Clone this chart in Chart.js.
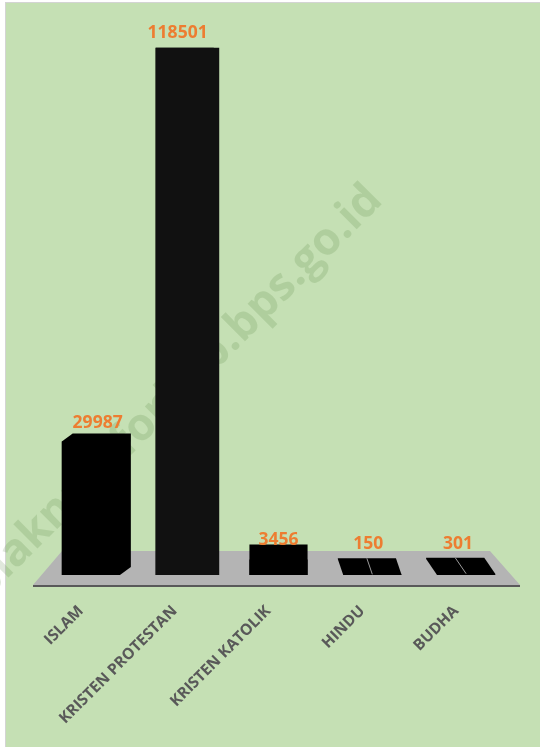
<!DOCTYPE html>
<html lang="id">
<head>
  <meta charset="UTF-8">
  <title>Penduduk menurut Agama</title>
  <style>
    html, body { margin: 0; padding: 0; background: #fff; }
    #wrap { width: 540px; height: 747px; }
  </style>
</head>
<body>
  <div id="wrap"><canvas id="grafik"></canvas></div>
  <script src="https://cdn.jsdelivr.net/npm/chart.js"></script>
  <script>
    const agama = ["ISLAM", "KRISTEN PROTESTAN", "KRISTEN KATOLIK", "HINDU", "BUDHA"];
    const jumlah = [29987, 118501, 3456, 150, 301];
    const sumbuMaks = 120000;
    const watermark = "biaknumforkab.bps.go.id";

    const hijau = '#c5e0b4';
    const oranye = '#ed7d31';
    const abu = '#595959';

    // latar belakang, watermark dan lantai 3D
    const latar = {
      id: 'latar',
      beforeDraw(chart) {
        const c = chart.ctx;
        c.save();
        c.fillStyle = '#fff';
        c.fillRect(0, 0, chart.width, chart.height);
        c.fillStyle = hijau;
        c.fillRect(6, 3, chart.width - 6, chart.height - 3);
        c.strokeStyle = '#d4d4d4';
        c.lineWidth = 1;
        c.strokeRect(5.5, 2.5, chart.width, chart.height);
        c.restore();
      },
      beforeDatasetsDraw(chart) {
        const c = chart.ctx, a = chart.chartArea;
        const y0 = chart.scales.y.getPixelForValue(0);
        c.save();
        c.translate(176, 392);
        c.rotate(-Math.PI / 4);
        c.fillStyle = 'rgba(70,120,50,0.17)';
        c.font = 'bold 45px "Open Sans", sans-serif';
        c.textAlign = 'center';
        c.textBaseline = 'middle';
        c.fillText(watermark, 0, 0);
        c.restore();

        c.save();
        c.fillStyle = '#b4b4b4';
        c.beginPath();
        c.moveTo(a.left + 18, y0 - 24);
        c.lineTo(a.right - 23, y0 - 24);
        c.lineTo(a.right + 7, y0 + 10);
        c.lineTo(a.left - 11, y0 + 10);
        c.closePath();
        c.fill();
        c.fillStyle = abu;
        c.fillRect(a.left - 11, y0 + 10, a.right - a.left + 18, 2);
        c.restore();
      }
    };

    // sisi atas / samping batang (kesan 3D) dan label nilai
    const batang3d = {
      id: 'batang3d',
      afterDatasetsDraw(chart) {
        const c = chart.ctx, a = chart.chartArea;
        const meta = chart.getDatasetMeta(0);
        const y0 = chart.scales.y.getPixelForValue(0);
        const vx = (a.left + a.right) / 2;
        c.save();
        meta.data.forEach((bar, i) => {
          const w = bar.width;
          const l = bar.x - w / 2, r = bar.x + w / 2, t = bar.y;
          const h = y0 - t;
          const d = Math.max(0, 16 - 0.06 * h);
          const sx = (vx - bar.x) * 0.058;
          c.fillStyle = i === 1 ? '#111' : '#000';
          c.beginPath();
          if (sx >= 0) {
            c.moveTo(l, y0); c.lineTo(l, t); c.lineTo(l + sx, t - d);
            c.lineTo(r + sx, t - d); c.lineTo(r + sx, y0 - d); c.lineTo(r, y0);
          } else {
            c.moveTo(r, y0); c.lineTo(r, t); c.lineTo(r + sx, t - d);
            c.lineTo(l + sx, t - d); c.lineTo(l + sx, y0 - d); c.lineTo(l, y0);
          }
          c.closePath();
          c.fill();
          if (h < 3) {
            c.strokeStyle = '#9a9a9a';
            c.lineWidth = 1;
            c.beginPath();
            c.moveTo(bar.x, t);
            c.lineTo(bar.x + sx, t - d);
            c.stroke();
          }
          const rel = h / (y0 - chart.scales.y.getPixelForValue(jumlah[1]));
          c.fillStyle = oranye;
          c.font = 'bold 17.5px "Open Sans", sans-serif';
          c.textAlign = 'center';
          c.textBaseline = 'alphabetic';
          const by = Math.min(t - 15 + 5 * rel, y0 - 26);
          const bx = bar.x + sx * (0.75 - 2.05 * rel * rel);
          c.fillText(jumlah[i], bx, by);
        });
        c.restore();
      }
    };

    new Chart(document.getElementById('grafik'), {
      type: 'bar',
      data: {
        labels: agama,
        datasets: [{ data: jumlah, backgroundColor: '#000', borderWidth: 0 }]
      },
      options: {
        responsive: true,
        maintainAspectRatio: false,
        animation: false,
        layout: { padding: { top: 41, left: 44, right: 27, bottom: 0 } },
        plugins: { legend: { display: false }, tooltip: { enabled: false } },
        datasets: { bar: { categoryPercentage: 1, barPercentage: 0.62 } },
        scales: {
          x: {
            grid: { display: false, drawTicks: false },
            border: { display: false },
            ticks: {
              autoSkip: false, minRotation: 45, maxRotation: 45,
              padding: 27, labelOffset: -10,
              color: abu, font: { family: 'Open Sans', weight: 'bold', size: 15.5 }
            },
            afterFit(s) { s.height = 172; }
          },
          y: { display: false, min: 0, max: sumbuMaks }
        }
      },
      plugins: [latar, batang3d]
    });
  </script>
</body>
</html>
